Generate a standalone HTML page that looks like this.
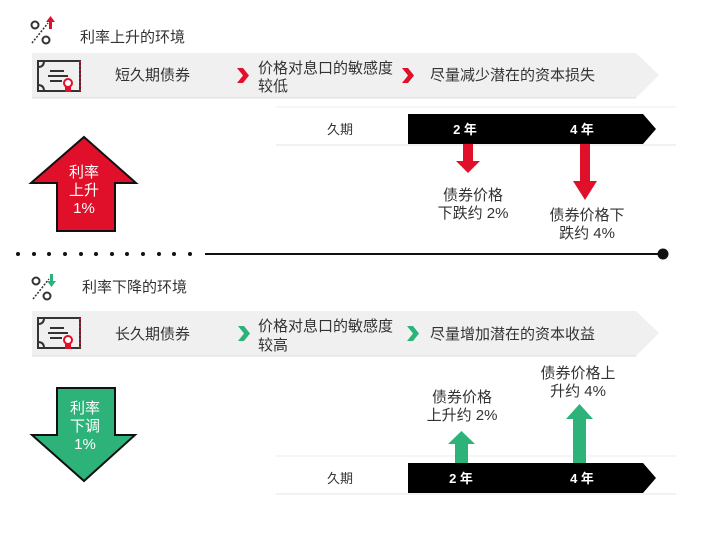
<!DOCTYPE html>
<html><head><meta charset="utf-8"><style>
html,body{margin:0;padding:0;background:#fff;width:716px;height:544px;overflow:hidden}
svg{display:block}
text{font-family:"Liberation Sans","Noto Sans CJK SC",sans-serif;fill:#333}
</style></head><body>
<svg width="716" height="544" viewBox="0 0 716 544" xmlns="http://www.w3.org/2000/svg">
<defs>
<g id="cert">
  <rect x="0" y="0" width="42" height="30" fill="none" stroke="#333" stroke-width="2"/>
  <path d="M0 6 q6 0 6 -6 M0 24 q6 0 6 6" fill="none" stroke="#333" stroke-width="2"/>
  <line x1="12" y1="10" x2="26" y2="10" stroke="#333" stroke-width="2"/>
  <line x1="10" y1="15" x2="30" y2="15" stroke="#333" stroke-width="2"/>
  <line x1="12" y1="20" x2="24" y2="20" stroke="#333" stroke-width="2"/>
  <line x1="42" y1="0" x2="42" y2="30" stroke="#e0102a" stroke-width="1.5" stroke-dasharray="2 2"/>
  <circle cx="30" cy="22" r="4" fill="#fff" stroke="#e0102a" stroke-width="2"/>
  <rect x="27" y="26" width="6" height="5" fill="#e0102a"/>
</g>
<g id="pct">
  <circle cx="5" cy="6" r="3.5" fill="none" stroke="#333" stroke-width="2"/>
  <circle cx="16" cy="21" r="3.5" fill="none" stroke="#333" stroke-width="2"/>
  <line x1="2" y1="24" x2="18" y2="4" stroke="#333" stroke-width="1.5" stroke-dasharray="2 1.5"/>
</g>
</defs>

<!-- TOP -->
<use href="#pct" x="30" y="19"/>
<rect x="49" y="21" width="3" height="8" fill="#e0102a"/><polygon points="46,22 50.5,16 55,22" fill="#e0102a"/>
<text x="80" y="42" font-size="15">利率上升的环境</text>

<polygon points="32,53 636,53 659,75 636,98 32,98" fill="#f0f0f0"/>
<line x1="32" y1="98" x2="636" y2="98" stroke="#ddd"/>
<use href="#cert" x="38" y="61"/>
<text x="115" y="80" font-size="15">短久期债券</text>
<polygon points="237,68 243,68 249,75.5 243,83 237,83 243,75.5" fill="#e0102a"/>
<text x="258" y="73" font-size="15">价格对息口的敏感度</text>
<text x="258" y="91" font-size="15">较低</text>
<polygon points="402,68 408,68 414,75.5 408,83 402,83 408,75.5" fill="#e0102a"/>
<text x="430" y="80" font-size="15">尽量减少潜在的资本损失</text>

<line x1="276" y1="107" x2="676" y2="107" stroke="#eee"/>
<line x1="276" y1="145" x2="676" y2="145" stroke="#e4e4e4"/>
<rect x="276" y="114" width="132" height="30" fill="#fff"/>
<text x="340" y="134" font-size="13" text-anchor="middle">久期</text>
<polygon points="408,114 643,114 656,129 643,144 408,144" fill="#000"/>
<text x="465" y="134" font-size="13" font-weight="bold" style="fill:#fff" text-anchor="middle">2 年</text>
<text x="582" y="134" font-size="13" font-weight="bold" style="fill:#fff" text-anchor="middle">4 年</text>

<rect x="463" y="144" width="10" height="18" fill="#e0102a"/>
<polygon points="456,161 480,161 468,173" fill="#e0102a"/>
<rect x="580" y="144" width="10" height="38" fill="#e0102a"/>
<polygon points="573,181 597,181 585,200" fill="#e0102a"/>
<text x="473" y="200" font-size="15" text-anchor="middle">债券价格</text>
<text x="473" y="218" font-size="15" text-anchor="middle">下跌约 2%</text>
<text x="587" y="220" font-size="15" text-anchor="middle">债券价格下</text>
<text x="587" y="238" font-size="15" text-anchor="middle">跌约 4%</text>

<polygon points="84,137 136,183 115,183 115,231 57,231 57,183 31,183" fill="#e0102a" stroke="#111" stroke-width="2"/>
<text x="84" y="177" font-size="15" text-anchor="middle" style="fill:#fff">利率</text>
<text x="84" y="195" font-size="15" text-anchor="middle" style="fill:#fff">上升</text>
<text x="84" y="213" font-size="15" text-anchor="middle" style="fill:#fff">1%</text>

<!-- divider -->
<g fill="#111">
<circle cx="18" cy="254" r="2"/><circle cx="34" cy="254" r="2"/><circle cx="49" cy="254" r="2"/><circle cx="65" cy="254" r="2"/><circle cx="81" cy="254" r="2"/><circle cx="96" cy="254" r="2"/><circle cx="112" cy="254" r="2"/><circle cx="127" cy="254" r="2"/><circle cx="143" cy="254" r="2"/><circle cx="159" cy="254" r="2"/><circle cx="174" cy="254" r="2"/><circle cx="190" cy="254" r="2"/>
<circle cx="663" cy="254" r="5.5"/>
</g>
<line x1="205" y1="254" x2="663" y2="254" stroke="#111" stroke-width="2"/>

<!-- BOTTOM -->
<use href="#pct" x="31" y="275"/>
<rect x="50" y="274" width="3" height="8" fill="#2db37a"/><polygon points="47,281 51.5,287 56,281" fill="#2db37a"/>
<text x="82" y="292" font-size="15">利率下降的环境</text>

<polygon points="32,311 636,311 659,333 636,356 32,356" fill="#f0f0f0"/>
<line x1="32" y1="356" x2="636" y2="356" stroke="#ddd"/>
<use href="#cert" x="38" y="318"/>
<text x="115" y="339" font-size="15">长久期债券</text>
<polygon points="238,326 244,326 250,333.5 244,341 238,341 244,333.5" fill="#2db37a"/>
<text x="258" y="331" font-size="15">价格对息口的敏感度</text>
<text x="258" y="350" font-size="15">较高</text>
<polygon points="407,326 413,326 419,333.5 413,341 407,341 413,333.5" fill="#2db37a"/>
<text x="430" y="339" font-size="15">尽量增加潜在的资本收益</text>

<line x1="276" y1="456" x2="676" y2="456" stroke="#eee"/>
<line x1="276" y1="494" x2="676" y2="494" stroke="#e4e4e4"/>
<text x="340" y="483" font-size="13" text-anchor="middle">久期</text>
<polygon points="408,463 643,463 656,478 643,493 408,493" fill="#000"/>
<text x="461" y="483" font-size="13" font-weight="bold" style="fill:#fff" text-anchor="middle">2 年</text>
<text x="582" y="483" font-size="13" font-weight="bold" style="fill:#fff" text-anchor="middle">4 年</text>

<rect x="455" y="443" width="13" height="20" fill="#2db37a"/>
<polygon points="448,444 475,444 461.5,431" fill="#2db37a"/>
<rect x="573" y="418" width="13" height="45" fill="#2db37a"/>
<polygon points="566,419 593,419 579.5,404" fill="#2db37a"/>
<text x="462" y="402" font-size="15" text-anchor="middle">债券价格</text>
<text x="462" y="420" font-size="15" text-anchor="middle">上升约 2%</text>
<text x="578" y="378" font-size="15" text-anchor="middle">债券价格上</text>
<text x="578" y="396" font-size="15" text-anchor="middle">升约 4%</text>

<polygon points="57,388 115,388 115,435 135,435 84,481 32,435 57,435" fill="#2db37a" stroke="#111" stroke-width="2"/>
<text x="85" y="413" font-size="15" text-anchor="middle" style="fill:#fff">利率</text>
<text x="85" y="431" font-size="15" text-anchor="middle" style="fill:#fff">下调</text>
<text x="85" y="449" font-size="15" text-anchor="middle" style="fill:#fff">1%</text>
</svg>
</body></html>
